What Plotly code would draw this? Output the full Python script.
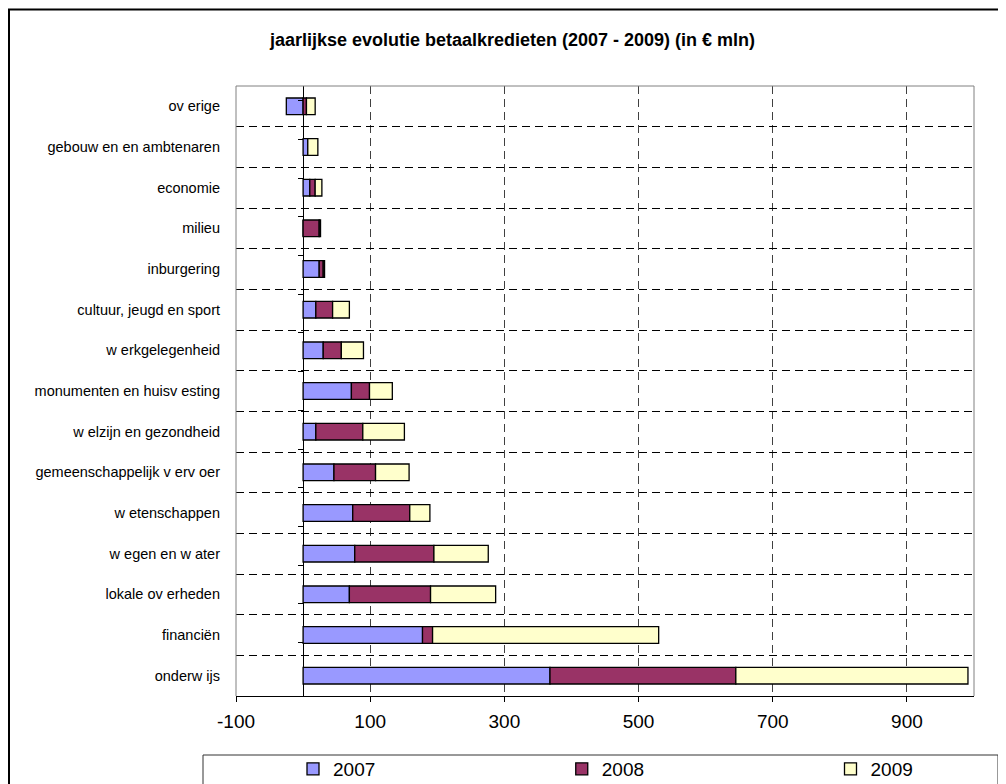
import plotly.graph_objects as go

# ---- data (top to bottom as in the chart) ----
categories = [
    "ov erige", "gebouw en en ambtenaren", "economie", "milieu", "inburgering",
    "cultuur, jeugd en sport", "w erkgelegenheid", "monumenten en huisv esting",
    "w elzijn en gezondheid", "gemeenschappelijk v erv oer", "w etenschappen",
    "w egen en w ater", "lokale ov erheden", "financiën", "onderw ijs",
]
v2007 = [-25, 7, 10, 0, 24, 19, 30, 72, 19, 46, 74, 77, 69, 178, 368]
v2008 = [5, 0, 8, 24, 6, 25, 27, 27, 70, 62, 85, 118, 121, 15, 277]
v2009 = [13, 15, 10, 2, 2, 25, 33, 34, 62, 50, 30, 81, 97, 337, 346]
series_names = ["2007", "2008", "2009"]
series_colors = ["#9999FF", "#993366", "#FFFFCC"]
x_range = [-100, 1000]
tick_values = [-100, 100, 300, 500, 700, 900]
tick_labels = ["-100", "100", "300", "500", "700", "900"]

# page has an 8px body margin: figure is sized/placed to fill the 1006x784 view
OFF = 8
W, H = 1006 - OFF, 784 - OFF
# plot area in page pixels
PL, PR, PT, PB = 236, 974, 86, 696
ML, MR, MT, MB = PL - OFF, (W + OFF) - PR, PT - OFF, (H + OFF) - PB
PW, PH = PR - PL, PB - PT


def px_x(p):
    return (p - PL) / PW


def px_y(p):
    return (PB - p) / PH


FONT = "Liberation Sans, Arial, sans-serif"

fig = go.Figure()
legend_widths = [223.75, 223.75, 60]
for name, vals, col, lw in zip(series_names, [v2007, v2008, v2009], series_colors, legend_widths):
    fig.add_trace(go.Bar(
        name=name, y=categories, x=vals, orientation="h",
        marker=dict(color=col, line=dict(color="#000000", width=1.3)),
        legendwidth=lw,
    ))

# helper trace to carry the category ticks on the zero line axis
fig.add_trace(go.Scatter(
    y=categories, x=[0] * len(categories), mode="markers",
    marker=dict(opacity=0), showlegend=False, hoverinfo="skip", yaxis="y2",
))

fig.update_layout(
    width=W, height=H,
    margin=dict(l=ML, r=MR, t=MT, b=MB, autoexpand=False),
    paper_bgcolor="white", plot_bgcolor="white",
    barmode="relative", bargap=0.59,
    font=dict(family=FONT, color="#000000"),
    title=dict(
        text="jaarlijkse evolutie betaalkredieten (2007 - 2009) (in € mln)",
        font=dict(size=18, weight=700, family=FONT),
        xref="container", yref="container",
        x=(512.5 - OFF) / W, y=1 - (40 - OFF) / H, xanchor="center", yanchor="middle",
    ),
    xaxis=dict(
        range=x_range, tickmode="array", tickvals=tick_values, ticktext=tick_labels,
        showgrid=True, gridcolor="#404040", griddash="8px,5px", gridwidth=1,
        zeroline=True, zerolinecolor="#000000", zerolinewidth=1,
        showline=True, linecolor="#000000", linewidth=1,
        ticks="outside", ticklen=5, tickcolor="#000000",
        ticklabelstandoff=3,
        tickfont=dict(size=19, family=FONT),
        fixedrange=True,
    ),
    yaxis=dict(
        type="category", autorange="reversed",
        tickson="boundaries", ticks="", showgrid=True,
        gridcolor="#000000", griddash="8px,5px", gridwidth=1,
        showline=False, ticklabelstandoff=15,
        tickfont=dict(size=14.5, family=FONT),
    ),
    yaxis2=dict(
        type="category", autorange="reversed", overlaying="y",
        anchor="free", position=(0 - x_range[0]) / (x_range[1] - x_range[0]),
        side="left", tickson="boundaries", ticks="outside", ticklen=5,
        tickcolor="#000000", showticklabels=False, showgrid=False,
        showline=False, zeroline=False,
    ),
    legend=dict(
        orientation="h", xref="paper", yref="paper",
        x=px_x(293), y=px_y(769), xanchor="left", yanchor="middle",
        entrywidthmode="pixels",
        font=dict(size=19, family=FONT), bgcolor="rgba(0,0,0,0)",
        borderwidth=0, traceorder="normal",
    ),
    shapes=[
        # plot area border (left, top, right) in grey
        dict(type="line", xref="paper", yref="paper", x0=0, x1=0, y0=0, y1=1,
             line=dict(color="#808080", width=1), layer="above"),
        dict(type="line", xref="paper", yref="paper", x0=0, x1=1, y0=1, y1=1,
             line=dict(color="#808080", width=1), layer="above"),
        dict(type="line", xref="paper", yref="paper", x0=1, x1=1, y0=0, y1=1,
             line=dict(color="#808080", width=1), layer="above"),
        # outer chart border
        dict(type="rect", xref="paper", yref="paper",
             x0=px_x(9), x1=px_x(1012), y0=px_y(9.5), y1=px_y(792),
             line=dict(color="#000000", width=2), layer="above"),
        # legend box
        dict(type="rect", xref="paper", yref="paper",
             x0=px_x(203), x1=px_x(998), y0=px_y(755), y1=px_y(792),
             line=dict(color="#333333", width=1), layer="above"),
    ],
    hovermode=False,
)

fig.write_html("out.html")
